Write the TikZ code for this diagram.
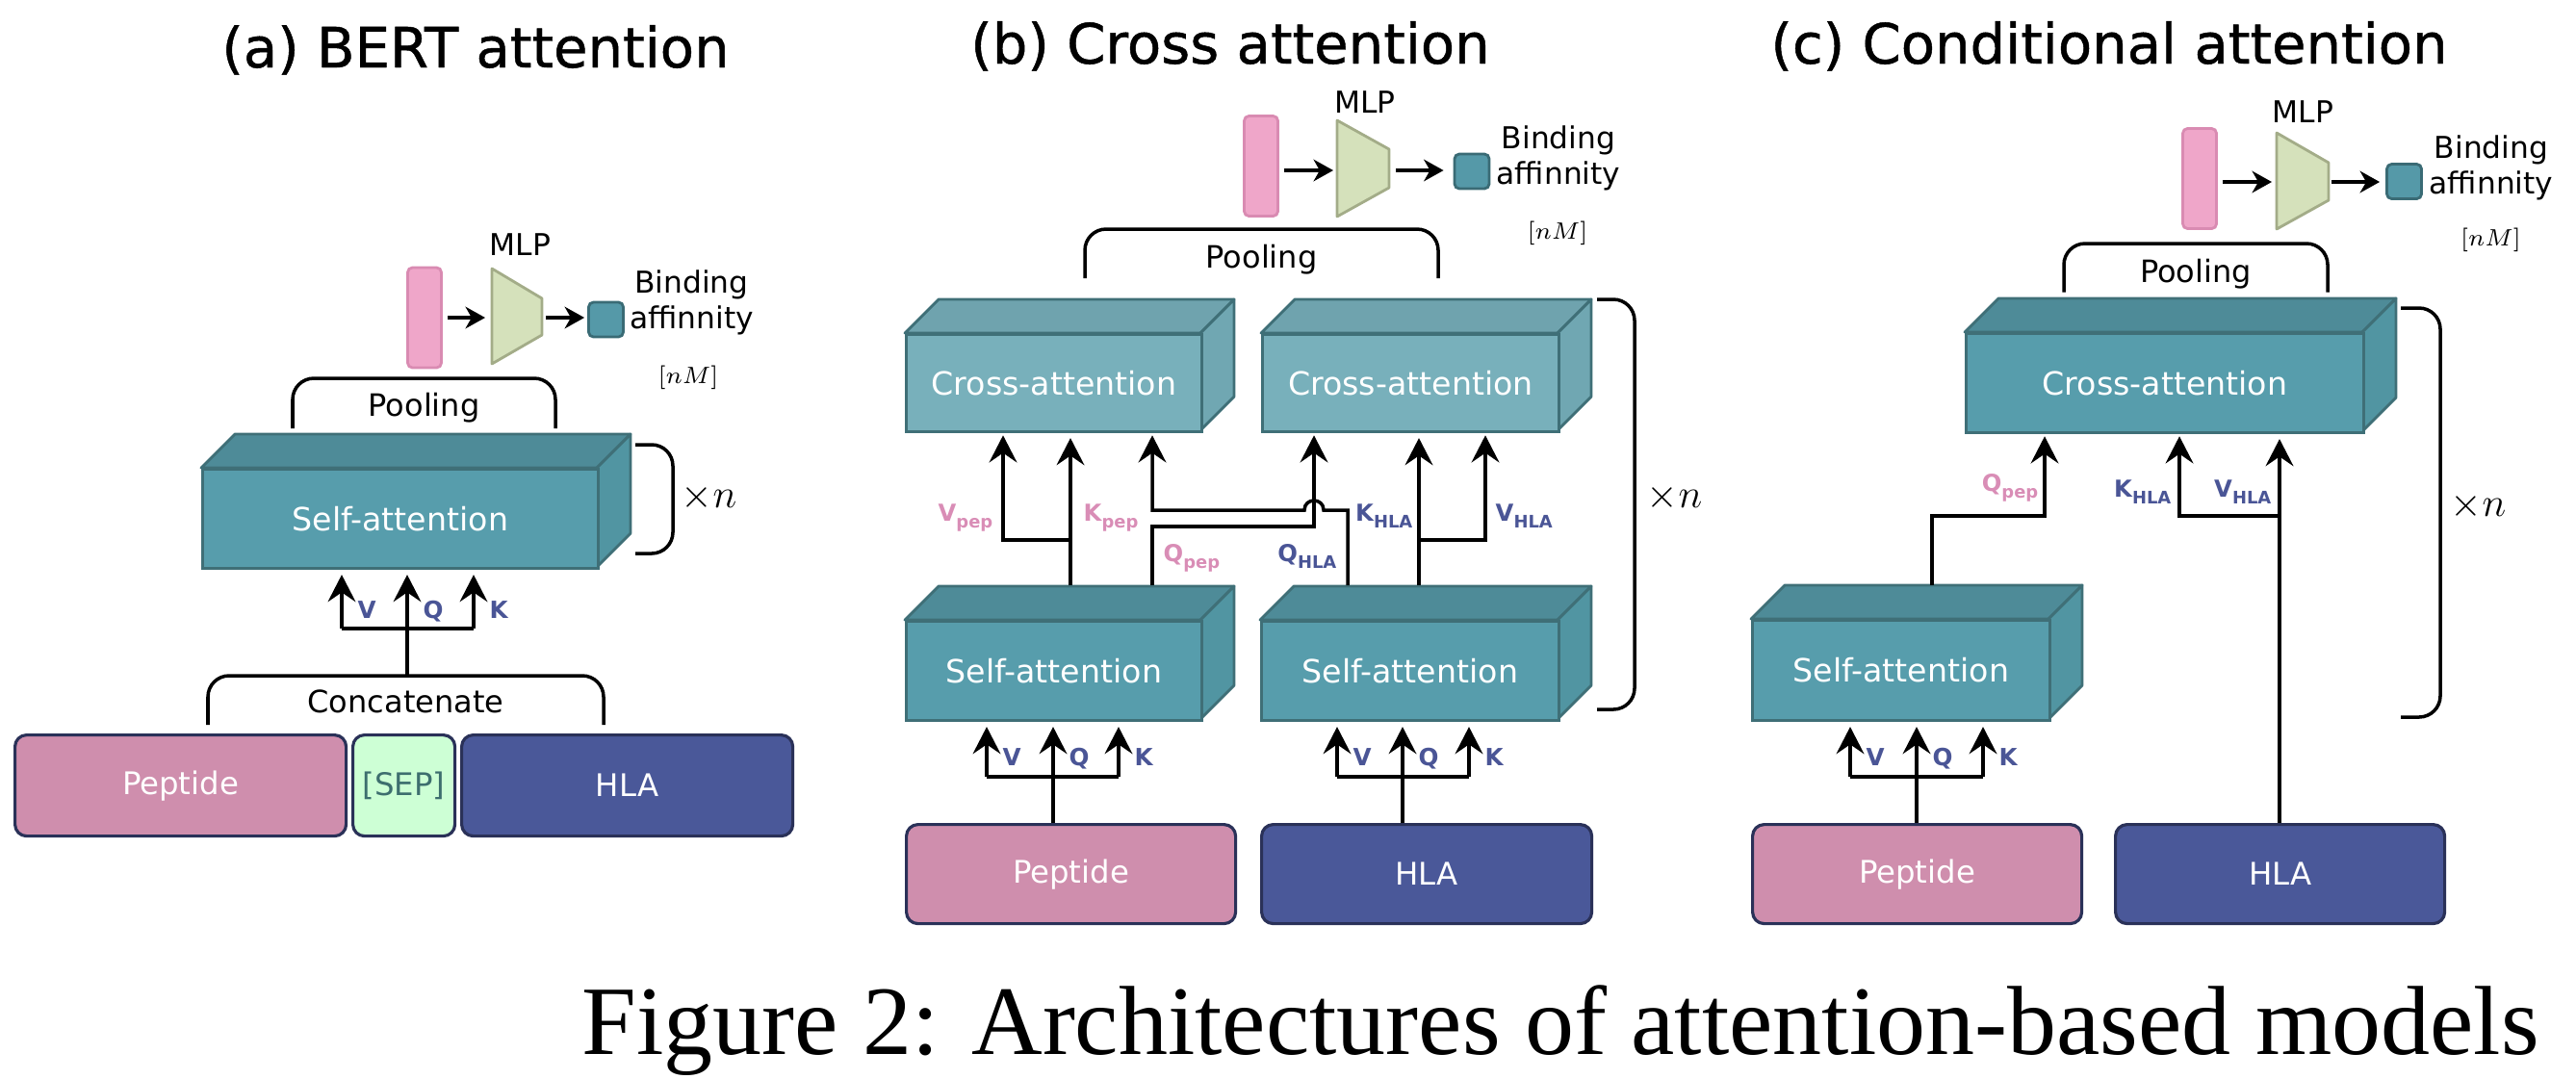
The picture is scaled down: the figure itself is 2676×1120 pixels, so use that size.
\documentclass[tikz,border=0pt]{standalone}
\usepackage{fontspec}
\setmainfont{DejaVu Sans}
\newfontfamily\ttlfont[FakeBold=0.8]{DejaVu Sans}
\newfontfamily\capfont{Liberation Serif}
\usetikzlibrary{arrows.meta}
\definecolor{pepfill}{HTML}{CF8EAD}
\definecolor{hlafill}{HTML}{4A5899}
\definecolor{boxedge}{HTML}{2A3158}
\definecolor{sepfill}{HTML}{CDFFD5}
\definecolor{septext}{HTML}{3D6E6E}
\definecolor{safront}{HTML}{579DAC}
\definecolor{satop}{HTML}{4E8B98}
\definecolor{saside}{HTML}{5195A2}
\definecolor{cubeedge}{HTML}{3F6F77}
\definecolor{cafront}{HTML}{78B0BB}
\definecolor{catop}{HTML}{6FA3AE}
\definecolor{caside}{HTML}{70A7B2}
\definecolor{barfill}{HTML}{EFA6C9}
\definecolor{bardraw}{HTML}{D98BB2}
\definecolor{trapfill}{HTML}{D5E1BB}
\definecolor{trapdraw}{HTML}{A3AC88}
\definecolor{sqfill}{HTML}{5599A8}
\definecolor{sqdraw}{HTML}{3A6B75}
\definecolor{labblue}{HTML}{4A5596}
\definecolor{labpink}{HTML}{D98DB6}
\newcommand\fsz[1]{\fontsize{#1}{#1}\selectfont}
\newcommand\lsub[2]{#1\raisebox{-2pt}{\fsz{5.1}#2}}
% cube: name, x1, y1, x2, y2 (front face), front, top, side, text
\newcommand\cubeblk[9]{%
  \filldraw[fill=#7, draw=cubeedge, line width=0.8pt, line join=round]
    (#2,#3) -- (#2+35,#3-35) -- (#4+35,#3-35) -- (#4,#3) -- cycle;
  \filldraw[fill=#8, draw=cubeedge, line width=0.8pt, line join=round]
    (#4,#3) -- (#4+35,#3-35) -- (#4+35,#5-35) -- (#4,#5) -- cycle;
  \node[draw=cubeedge, line width=0.8pt, fill=#6, inner sep=0pt, anchor=north west,
    minimum width={(#4-#2)*0.01cm}, minimum height={(#5-#3)*0.01cm},
    text=white, font=\fsz{9.45}] (#1) at (#2,#3) {#9};}
% input box: name, x1, y1, x2, y2, fill, text
\newcommand\ibox[7]{%
  \node[inbox, fill=#6, minimum width={(#4-#2)*0.01cm}, minimum height={(#5-#3)*0.01cm}]
    (#1) at (#2,#3) {#7};}
\tikzset{
  ttl/.style={font=\ttlfont\fsz{16.4}, inner sep=0pt, anchor=base},
  lab/.style={font=\fsz{9.1}, inner sep=0pt, anchor=base},
  qkv/.style={font=\bfseries\fsz{7}, text=labblue, inner sep=0pt, anchor=base west},
  sl/.style={font=\bfseries\fsz{6.9}, inner sep=0pt},
  arr/.style={line width=1pt, -{Stealth[length=8pt,width=8.2pt,inset=2.8pt]}, shorten >=1.5pt},
  sarr/.style={line width=1pt, -{Stealth[length=5.8pt,width=6.4pt,inset=1.8pt]}},
  wire/.style={line width=1pt},
  brk/.style={line width=1pt, rounded corners=0.22cm},
  inbox/.style={draw=boxedge, line width=0.9pt, rounded corners=0.12cm, inner sep=0pt,
    text=white, font=\fsz{9.2}, anchor=north west},
  vbar/.style={draw=bardraw, fill=barfill, line width=0.8pt, rounded corners=0.05cm,
    inner sep=0pt, minimum width=0.35cm, minimum height=1.04cm},
  osq/.style={draw=sqdraw, fill=sqfill, line width=0.8pt, rounded corners=0.05cm,
    inner sep=0pt, minimum size=0.36cm},
  trap/.style={fill=trapfill, draw=trapdraw, line width=0.8pt, line join=round},
  mlpt/.style={font=\fsz{8.9}, inner sep=0pt, anchor=base},
  bind/.style={font=\fontsize{8.9}{10.5}\selectfont, align=center, inner sep=0pt},
  nm/.style={font=\fsz{7.2}, inner sep=0pt},
  xn/.style={font=\fsz{12}, inner sep=0pt, anchor=base west},
}
\begin{document}
\begin{tikzpicture}[x=0.01cm, y=-0.01cm]
\useasboundingbox (0,0) rectangle (2676,1120);

%================ (a) =================
\node[ttl] (ta) at (494,70) {(a) BERT attention};
% MLP head
\node[vbar] (aBar) at (441,330) {};
\filldraw[trap] (511,279) -- (563,310) -- (563,348) -- (511,378) -- cycle;
\coordinate (aTrL) at (511,330);
\coordinate (aTrR) at (563,330);
\node[osq] (aOut) at (629.5,332) {};
\draw[sarr] ([xshift=0.05cm]aBar.east) -- ([xshift=-0.07cm]aTrL);
\draw[sarr] ([xshift=0.04cm]aTrR) -- ([xshift=-0.03cm]aOut.west |- aTrR);
\node[mlpt] (aMLP) at (540.5,265) {MLP};
\node[bind] (aBind) at (718.5,314) {Binding\\affinnity};
\node[nm] (aNM) at (715,392) {$[nM]$};
% pooling
\draw[brk] (304,445) -- (304,393) -- (577,393) -- (577,445);
\node[lab] (aPool) at (440.5,432) {Pooling};
% self attention
\cubeblk{aSA}{209}{486}{620}{589}{safront}{satop}{saside}{Self-attention}
\draw[brk] (660,462) -- (699,462) -- (699,575) -- (660,575);
\node[xn] (aXn) at (707,527) {$\times n$};
% inputs
\ibox{aPep}{14}{762}{358}{867}{pepfill}{Peptide}
\ibox{aSep}{365}{762}{471}{867}{sepfill}{\color{septext}[SEP]}
\ibox{aHLA}{478}{762}{822}{867}{hlafill}{HLA}
\draw[brk] (216,753) -- (216,702) -- (627,702) -- (627,753);
\node[lab] (aCat) at (421.5,740) {Concatenate};
\coordinate (aCj) at (423,702);
\coordinate (aJ) at (423,653);
\coordinate (aV) at (355,653);
\coordinate (aK) at (492,653);
\draw[wire] (aCj) -- (aJ);
\draw[wire] (aV) -- (aK);
\draw[arr] (aV) -- (aV |- aSA.south);
\draw[arr] (aJ) -- (aJ |- aSA.south);
\draw[arr] (aK) -- (aK |- aSA.south);
\node[qkv] at (371,642) {V};
\node[qkv] at (439,642) {Q};
\node[qkv] at (508,642) {K};

%================ (b) =================
\node[ttl] (tb) at (1278,66) {(b) Cross attention};
\node[vbar] (bBar) at (1310,172.5) {};
\filldraw[trap] (1389,125) -- (1443,155) -- (1443,195) -- (1389,225) -- cycle;
\coordinate (bTrL) at (1389,177);
\coordinate (bTrR) at (1443,177);
\node[osq] (bOut) at (1529,178) {};
\draw[sarr] ([xshift=0.05cm]bBar.east |- bTrL) -- ([xshift=-0.04cm]bTrL);
\draw[sarr] ([xshift=0.07cm]bTrR) -- ([xshift=-0.1cm]bOut.west |- bTrR);
\node[mlpt] (bMLP) at (1418,117) {MLP};
\node[bind] (bBind) at (1619,164) {Binding\\affinnity};
\node[nm] (bNM) at (1618,242) {$[nM]$};
\draw[brk] (1127,289) -- (1127,238) -- (1494,238) -- (1494,289);
\node[lab] (bPool) at (1310.5,278) {Pooling};
\cubeblk{bCL}{940}{346}{1247}{447}{cafront}{catop}{caside}{Cross-attention}
\cubeblk{bCR}{1310}{346}{1618}{447}{cafront}{catop}{caside}{Cross-attention}
\cubeblk{bSL}{940}{644}{1247}{747}{safront}{satop}{saside}{Self-attention}
\cubeblk{bSR}{1309}{644}{1618}{747}{safront}{satop}{saside}{Self-attention}
\draw[brk] (1659,311) -- (1698,311) -- (1698,737) -- (1659,737);
\node[xn] (bXn) at (1710,527) {$\times n$};
\ibox{bPep}{940}{855}{1282}{958}{pepfill}{Peptide}
\ibox{bHLA}{1309}{855}{1652}{958}{hlafill}{HLA}
% bottom V Q K left
\coordinate (bLJ) at (1094,807);
\coordinate (bLV) at (1025,807);
\coordinate (bLK) at (1162,807);
\draw[wire] (bLJ |- bPep.north) -- (bLJ);
\draw[wire] (bLV) -- (bLK);
\draw[arr] (bLV) -- (bLV |- bSL.south);
\draw[arr] (bLJ) -- (bLJ |- bSL.south);
\draw[arr] (bLK) -- (bLK |- bSL.south);
\node[qkv] at (1041,795) {V};
\node[qkv] at (1110,795) {Q};
\node[qkv] at (1178,795) {K};
% bottom V Q K right
\coordinate (bRJ) at (1457,807);
\coordinate (bRV) at (1389,807);
\coordinate (bRK) at (1526,807);
\draw[wire] (bRJ |- bHLA.north) -- (bRJ);
\draw[wire] (bRV) -- (bRK);
\draw[arr] (bRV) -- (bRV |- bSR.south);
\draw[arr] (bRJ) -- (bRJ |- bSR.south);
\draw[arr] (bRK) -- (bRK |- bSR.south);
\node[qkv] at (1405,795) {V};
\node[qkv] at (1473,795) {Q};
\node[qkv] at (1542,795) {K};
% upper connections
\coordinate (bPo) at (1112,608);
\coordinate (bPj) at (1112,561);
\coordinate (bPq) at (1197,608);
\coordinate (bHo) at (1474,608);
\coordinate (bHj) at (1474,561);
\coordinate (bHq) at (1400,608);
\draw[arr] (bPo) -- (bPo |- bCL.south);
\draw[arr] (bPj) -| (1042,447);
\draw[arr] (bHo) -- (bHo |- bCR.south);
\draw[arr] (bHj) -| (1543,447);
\draw[arr] (bPq) -- (1197,547) -- (1365,547) -- (1365,447);
\draw[arr] (bHq) -- (1400,530) -- (1375,530) .. controls (1375,516.7) and (1355,516.7) .. (1355,530) -- (1197,530) -- (1197,447);
\node[sl, text=labpink, anchor=base east] at (1032,541) {\lsub{V}{pep}};
\node[sl, text=labpink, anchor=base west] at (1125,541) {\lsub{K}{pep}};
\node[sl, text=labblue, anchor=base east] at (1468,541) {\lsub{K}{HLA}};
\node[sl, text=labblue, anchor=base west] at (1553,541) {\lsub{V}{HLA}};
\node[sl, text=labpink, anchor=base west] at (1208,583) {\lsub{Q}{pep}};
\node[sl, text=labblue, anchor=base east] at (1389,583) {\lsub{Q}{HLA}};

%================ (c) =================
\node[ttl] (tc) at (2191,66) {(c) Conditional attention};
\node[vbar] (cBar) at (2285,185.5) {};
\filldraw[trap] (2365,138) -- (2419,169) -- (2419,208) -- (2365,238) -- cycle;
\coordinate (cTrL) at (2365,189);
\coordinate (cTrR) at (2419,189);
\node[osq] (cOut) at (2497.5,188.5) {};
\draw[sarr] ([xshift=0.05cm]cBar.east |- cTrL) -- ([xshift=-0.05cm]cTrL);
\draw[sarr] ([xshift=0.03cm]cTrR) -- ([xshift=-0.06cm]cOut.west |- cTrR);
\node[mlpt] (cMLP) at (2392.5,127) {MLP};
\node[bind] (cBind) at (2588,174) {Binding\\affinnity};
\node[nm] (cNM) at (2587.5,249) {$[nM]$};
\draw[brk] (2144,303.5) -- (2144,253) -- (2418,253) -- (2418,303.5);
\node[lab] (cPool) at (2281,293) {Pooling};
\cubeblk{cCA}{2041}{345}{2454}{448}{safront}{satop}{saside}{Cross-attention}
\cubeblk{cSA}{1819}{643}{2128}{747}{safront}{satop}{saside}{Self-attention}
\draw[brk] (2494,320) -- (2535,320) -- (2535,745) -- (2494,745);
\node[xn] (cXn) at (2545,536) {$\times n$};
\ibox{cPep}{1819}{855}{2161}{958}{pepfill}{Peptide}
\ibox{cHLA}{2196}{855}{2538}{958}{hlafill}{HLA}
\coordinate (cJ) at (1991,807);
\coordinate (cV) at (1922,807);
\coordinate (cK) at (2060,807);
\draw[wire] (cJ |- cPep.north) -- (cJ);
\draw[wire] (cV) -- (cK);
\draw[arr] (cV) -- (cV |- cSA.south);
\draw[arr] (cJ) -- (cJ |- cSA.south);
\draw[arr] (cK) -- (cK |- cSA.south);
\node[qkv] at (1938,795) {V};
\node[qkv] at (2007,795) {Q};
\node[qkv] at (2076,795) {K};
\coordinate (cQo) at (2007,608);
\coordinate (cHo) at (2368,855);
\coordinate (cHj) at (2368,536);
\draw[arr] (cQo) -- (2007,536) -| (2124,448);
\draw[arr] (cHo) -- (cHo |- cCA.south);
\draw[arr] (cHj) -| (2264,448);
\node[sl, text=labpink, anchor=base east] at (2118,510) {\lsub{Q}{pep}};
\node[sl, text=labblue, anchor=base east] at (2256,516) {\lsub{K}{HLA}};
\node[sl, text=labblue, anchor=base east] at (2360,516) {\lsub{V}{HLA}};

%================ caption =================
\node[font=\capfont\fsz{29}, inner sep=0pt, anchor=base] (cap) at (1621,1095)
  {Figure 2: Architectures of attention-based models};
\end{tikzpicture}
\end{document}
